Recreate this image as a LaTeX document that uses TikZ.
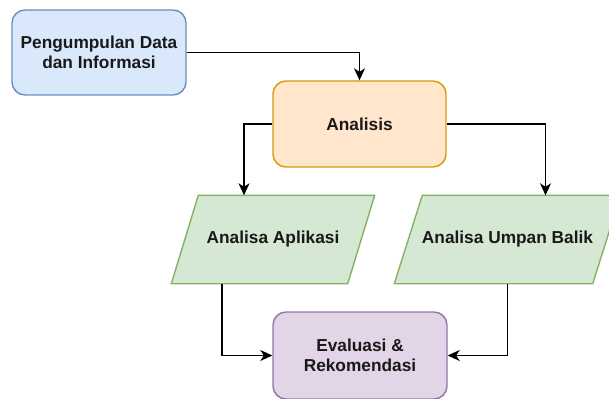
\documentclass[tikz,border=0pt]{standalone}
\usepackage{fontspec}
\setmainfont{Liberation Sans}
\usetikzlibrary{arrows.meta,backgrounds}
\definecolor{bluefill}{HTML}{DAE8FC}\definecolor{bluedraw}{HTML}{6C8EBF}
\definecolor{orfill}{HTML}{FFE6CC}\definecolor{ordraw}{HTML}{D79B00}
\definecolor{grfill}{HTML}{D5E8D4}\definecolor{grdraw}{HTML}{82B366}
\definecolor{pufill}{HTML}{E1D5E7}\definecolor{pudraw}{HTML}{9673A6}
\tikzset{
  lbl/.style={font=\fontsize{17.3}{20}\selectfont\bfseries, text=black!90, align=center, line width=1.4pt},
  rbox/.style={lbl, rectangle, rounded corners=13pt, minimum width=173pt, minimum height=86pt, inner sep=0pt},
  parabody/.style={lbl, rectangle, minimum height=87pt, inner sep=0pt},
  parashape/.style={draw=grdraw, fill=grfill, line width=1.4pt, line join=miter},
  arr/.style={line width=1.4pt, -{Stealth[length=12pt,width=11pt,inset=3.5pt]}}
}
\begin{document}
\begin{tikzpicture}[x=1pt,y=-1pt]
\useasboundingbox (0,0) rectangle (609,398);
\clip (0,0) rectangle (609,398);
\node[rbox, draw=bluedraw, fill=bluefill, minimum width=174pt, minimum height=85pt] (p) at (99,52.5) {Pengumpulan Data\\dan Informasi};
\node[rbox, draw=ordraw, fill=orfill] (a) at (359.5,124) {Analisis};
\node[parabody, minimum width=175pt] (l) at (273,239.5) {Analisa Aplikasi};
\node[parabody, minimum width=197pt] (r) at (507.5,239.5) {Analisa Umpan Balik};
\begin{pgfonlayer}{background}
\path[parashape] ([xshift=13.5pt]l.north west) -- ([xshift=13.5pt]l.north east) -- ([xshift=-13.5pt]l.south east) -- ([xshift=-13.5pt]l.south west) -- cycle;
\path[parashape] ([xshift=14pt]r.north west) -- ([xshift=14pt]r.north east) -- ([xshift=-14pt]r.south east) -- ([xshift=-14pt]r.south west) -- cycle;
\end{pgfonlayer}
\node[rbox, draw=pudraw, fill=pufill, minimum width=174pt, minimum height=87pt] (e) at (360,355.5) {Evaluasi \&\\Rekomendasi};
\draw[arr] (p.east) -| (a.north);
\draw[arr] (a.west) -| ([xshift=-29pt]l.north);
\draw[arr] (a.east) -| ([xshift=38pt]r.north);
\draw[arr] ([xshift=-51pt]l.south) |- (e.west);
\draw[arr] (r.south) |- (e.east);
\end{tikzpicture}
\end{document}
